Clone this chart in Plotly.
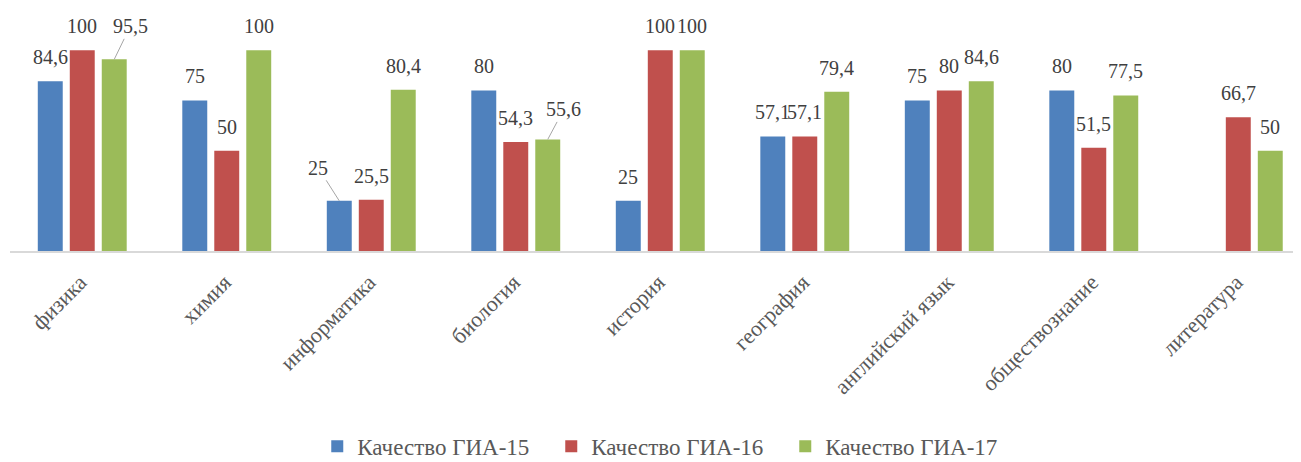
import plotly.graph_objects as go

categories = ["физика", "химия", "информатика", "биология", "история",
              "география", "английский язык", "обществознание", "литература"]
gia15 = [84.6, 75, 25, 80, 25, 57.1, 75, 80, None]
gia16 = [100, 50, 25.5, 54.3, 100, 57.1, 80, 51.5, 66.7]
gia17 = [95.5, 100, 80.4, 55.6, 100, 79.4, 84.6, 77.5, 50]
series_names = ["Качество ГИА-15", "Качество ГИА-16", "Качество ГИА-17"]
colors = ["#4F81BD", "#C0504D", "#9BBB59"]

series = [gia15, gia16, gia17]

# labels that were dragged away from their bar (with a leader line): (series, category) -> (dx, dy) px
moved = {(2, 0): (16, -33), (0, 2): (-21, -33), (2, 3): (16, -30)}

FONT = "Liberation Serif, Tinos, Times New Roman, DejaVu Serif, Liberation Sans, Arial, sans-serif"

fig = go.Figure()
for name, vals, col in zip(series_names, series, colors):
    fig.add_trace(go.Bar(
        x=categories, y=vals, name=name,
        marker=dict(color=col, line=dict(width=0)),
        hoverinfo="skip",
    ))

def fmt(v):
    s = ("%g" % v)
    return s.replace(".", ",")

annotations = []
for s, vals in enumerate(series):
    for i, v in enumerate(vals):
        if v is None:
            continue
        base = dict(x=categories[i], y=v, xref="x", yref="y",
                    text=fmt(v), xshift=(s - 1) * 32,
                    font=dict(family=FONT, size=20, color="#404040"))
        if (s, i) in moved:
            dx, dy = moved[(s, i)]
            base.update(showarrow=True, ax=dx, ay=dy, arrowhead=0,
                        arrowwidth=1, arrowcolor="#A6A6A6", standoff=0)
        else:
            base.update(showarrow=False, yanchor="middle", yshift=24)
        annotations.append(base)

fig.update_layout(
    width=1301, height=462,
    margin=dict(l=2, r=8, t=2, b=213.3),
    paper_bgcolor="white", plot_bgcolor="white",
    barmode="group", bargap=0.336, bargroupgap=0.22,
    font=dict(family=FONT, size=21, color="#595959"),
    xaxis=dict(
        type="category", range=[-0.5, 8.434], automargin=False,
        showline=True, linecolor="#D9D9D9", linewidth=1.5,
        showgrid=False, ticks="", tickangle=-45,
        ticklabelstandoff=8, ticklabelshift=-2,
        tickfont=dict(family=FONT, size=22, color="#595959"),
        fixedrange=True,
    ),
    yaxis=dict(range=[0, 120.08], visible=False, showgrid=False,
               zeroline=False, fixedrange=True, automargin=False),
    legend=dict(
        orientation="h", x=0.238, xanchor="left", y=-0.81, yanchor="middle",
        font=dict(family=FONT, size=23, color="#595959"),
        entrywidth=189, entrywidthmode="pixels",
        bgcolor="rgba(0,0,0,0)",
    ),
    annotations=annotations,
    showlegend=True,
)

fig.write_html("out.html")
